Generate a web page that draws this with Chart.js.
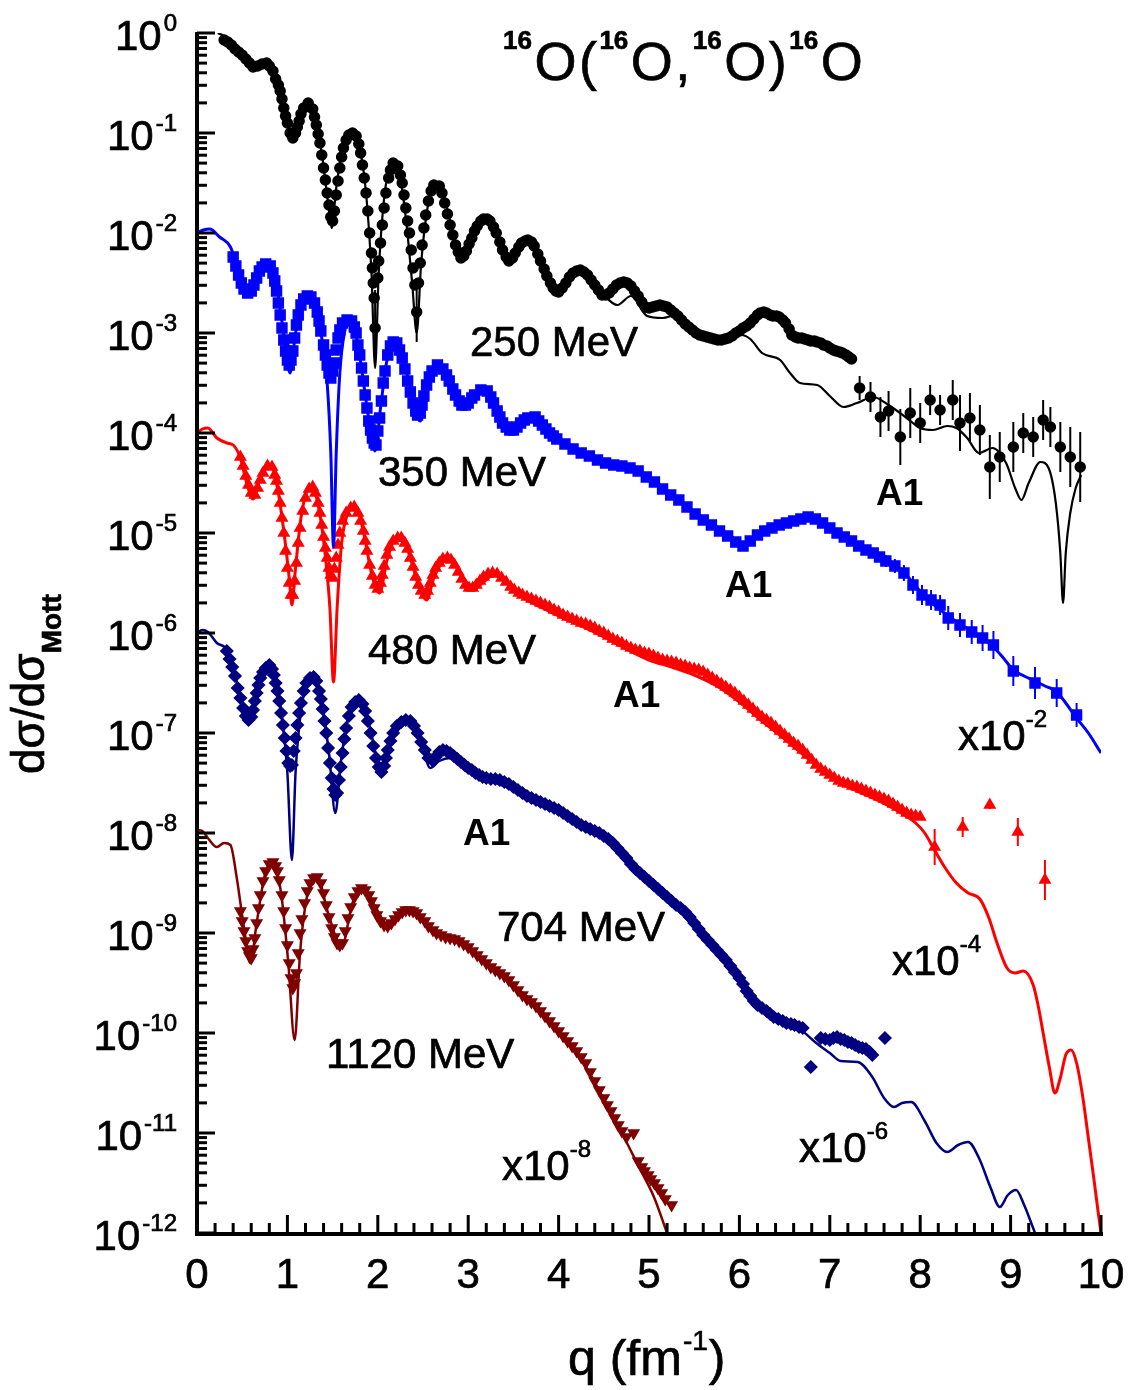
<!DOCTYPE html>
<html>
<head>
<meta charset="utf-8">
<script src="https://cdn.jsdelivr.net/npm/chart.js@4/dist/chart.umd.min.js"></script>
<style>
  body { margin: 0; background: #fff; }
  #wrap { width: 1129px; height: 1390px; }
</style>
</head>
<body>
<div id="wrap"><canvas id="chart"></canvas></div>
<script>
// values are [q in fm^-1, log10(dsigma/dsigma_Mott)]
// "tail" points carry a third value: half error bar in decades

const data250 = [[0.30,-0.07],[0.34,-0.09],[0.38,-0.12],[0.42,-0.16],[0.46,-0.19],[0.50,-0.22],[0.54,-0.26],[0.58,-0.30],[0.62,-0.34],[0.67,-0.33],[0.72,-0.31],[0.77,-0.30],[0.80,-0.33],[0.84,-0.38],[0.87,-0.46],[0.90,-0.52],[0.92,-0.58],[0.94,-0.66],[0.96,-0.75],[0.98,-0.83],[1.00,-0.90],[1.03,-1.00],[1.06,-1.05],[1.09,-1.00],[1.11,-0.94],[1.13,-0.88],[1.15,-0.81],[1.18,-0.75],[1.23,-0.70],[1.28,-0.76],[1.30,-0.84],[1.32,-0.92],[1.34,-1.01],[1.36,-1.10],[1.38,-1.22],[1.40,-1.35],[1.42,-1.47],[1.44,-1.60],[1.46,-1.72],[1.48,-1.84],[1.50,-1.88],[1.52,-1.78],[1.54,-1.62],[1.56,-1.48],[1.58,-1.35],[1.60,-1.24],[1.62,-1.15],[1.65,-1.07],[1.68,-1.02],[1.72,-1.00],[1.76,-1.03],[1.79,-1.11],[1.81,-1.20],[1.83,-1.32],[1.85,-1.45],[1.87,-1.60],[1.89,-1.78],[1.91,-2.00],[1.93,-2.20],[1.94,-2.35],[1.95,-2.50],[1.96,-2.65],[2.00,-2.45],[2.01,-2.28],[2.03,-2.10],[2.05,-1.92],[2.07,-1.75],[2.09,-1.60],[2.12,-1.45],[2.14,-1.37],[2.17,-1.30],[2.22,-1.33],[2.25,-1.42],[2.27,-1.50],[2.29,-1.62],[2.31,-1.75],[2.33,-1.88],[2.35,-2.00],[2.37,-2.17],[2.39,-2.35],[2.41,-2.52],[2.45,-2.50],[2.47,-2.30],[2.49,-2.12],[2.51,-1.95],[2.53,-1.82],[2.56,-1.68],[2.59,-1.58],[2.62,-1.52],[2.68,-1.53],[2.71,-1.60],[2.74,-1.70],[2.77,-1.81],[2.80,-1.92],[2.83,-2.02],[2.86,-2.12],[2.89,-2.19],[2.92,-2.25],[2.95,-2.23],[2.98,-2.18],[3.01,-2.11],[3.04,-2.05],[3.07,-1.98],[3.10,-1.93],[3.14,-1.88],[3.17,-1.86],[3.21,-1.86],[3.24,-1.88],[3.28,-1.94],[3.31,-2.00],[3.35,-2.09],[3.38,-2.17],[3.42,-2.24],[3.45,-2.28],[3.49,-2.25],[3.52,-2.20],[3.56,-2.14],[3.59,-2.10],[3.63,-2.08],[3.66,-2.07],[3.70,-2.09],[3.73,-2.13],[3.77,-2.21],[3.80,-2.28],[3.84,-2.36],[3.87,-2.43],[3.91,-2.50],[3.94,-2.55],[3.97,-2.58],[4.00,-2.59],[4.04,-2.55],[4.08,-2.50],[4.12,-2.44],[4.16,-2.40],[4.20,-2.38],[4.24,-2.37],[4.28,-2.39],[4.32,-2.42],[4.36,-2.47],[4.40,-2.52],[4.44,-2.57],[4.48,-2.62],[4.52,-2.62],[4.56,-2.60],[4.60,-2.56],[4.64,-2.52],[4.68,-2.50],[4.72,-2.49],[4.76,-2.50],[4.80,-2.53],[4.84,-2.58],[4.88,-2.63],[4.92,-2.69],[4.96,-2.74],[5.00,-2.75],[5.04,-2.74],[5.08,-2.73],[5.12,-2.72],[5.16,-2.73],[5.20,-2.74],[5.24,-2.77],[5.28,-2.80],[5.32,-2.83],[5.36,-2.87],[5.40,-2.91],[5.44,-2.94],[5.48,-2.97],[5.52,-3.00],[5.56,-3.02],[5.60,-3.03],[5.64,-3.04],[5.68,-3.05],[5.72,-3.06],[5.76,-3.07],[5.80,-3.07],[5.84,-3.06],[5.88,-3.05],[5.92,-3.03],[5.96,-3.00],[6.00,-2.98],[6.04,-2.95],[6.08,-2.93],[6.12,-2.90],[6.16,-2.86],[6.20,-2.82],[6.23,-2.80],[6.27,-2.79],[6.30,-2.80],[6.34,-2.82],[6.37,-2.83],[6.41,-2.83],[6.44,-2.84],[6.48,-2.87],[6.51,-2.90],[6.55,-2.96],[6.58,-3.02],[6.62,-3.04],[6.65,-3.05],[6.69,-3.05],[6.72,-3.06],[6.76,-3.07],[6.79,-3.08],[6.83,-3.08],[6.86,-3.09],[6.90,-3.10],[6.93,-3.12],[6.97,-3.13],[7.00,-3.15],[7.04,-3.17],[7.07,-3.18],[7.11,-3.19],[7.14,-3.20],[7.18,-3.22],[7.21,-3.24],[7.24,-3.26]];
const tail250 = [[1.97,-2.95,0.38],[2.43,-2.79,0.30],[7.33,-3.55,0.12],[7.45,-3.64,0.15],[7.56,-3.84,0.20],[7.65,-3.78,0.20],[7.78,-4.04,0.28],[7.89,-3.80,0.25],[8.00,-3.90,0.20],[8.11,-3.67,0.15],[8.22,-3.77,0.15],[8.36,-3.67,0.20],[8.44,-3.90,0.28],[8.55,-3.85,0.25],[8.66,-3.97,0.25],[8.77,-4.34,0.32],[8.88,-4.24,0.25],[9.03,-4.14,0.25],[9.14,-4.00,0.20],[9.25,-4.04,0.20],[9.36,-3.87,0.20],[9.44,-3.94,0.20],[9.55,-4.14,0.25],[9.66,-4.24,0.30],[9.77,-4.34,0.35]];
const theory250 = [[0.23,0.00],[0.30,-0.03],[0.40,-0.10],[0.48,-0.18],[0.56,-0.27],[0.63,-0.33],[0.70,-0.33],[0.77,-0.31],[0.85,-0.42],[0.93,-0.65],[1.00,-0.92],[1.06,-1.07],[1.12,-0.90],[1.18,-0.75],[1.23,-0.70],[1.30,-0.82],[1.38,-1.20],[1.45,-1.70],[1.49,-1.95],[1.54,-1.55],[1.61,-1.15],[1.67,-1.02],[1.73,-1.00],[1.80,-1.15],[1.87,-1.60],[1.93,-2.40],[1.97,-3.35],[2.01,-2.40],[2.07,-1.65],[2.12,-1.38],[2.17,-1.29],[2.24,-1.42],[2.31,-1.85],[2.38,-2.50],[2.43,-3.00],[2.48,-2.30],[2.55,-1.75],[2.63,-1.50],[2.72,-1.60],[2.82,-1.95],[2.93,-2.27],[3.05,-2.05],[3.19,-1.85],[3.33,-2.05],[3.46,-2.30],[3.56,-2.15],[3.66,-2.07],[3.80,-2.25],[3.99,-2.60],[4.12,-2.45],[4.24,-2.37],[4.38,-2.48],[4.50,-2.62],[4.65,-2.72],[4.80,-2.63],[4.98,-2.83],[5.15,-2.85],[5.30,-2.82],[5.45,-2.95],[5.65,-3.05],[5.85,-3.07],[6.02,-3.02],[6.12,-3.06],[6.25,-3.20],[6.45,-3.27],[6.56,-3.40],[6.67,-3.50],[6.86,-3.52],[7.00,-3.63],[7.15,-3.74],[7.30,-3.70],[7.48,-3.64],[7.65,-3.72],[7.85,-3.85],[8.00,-3.95],[8.14,-3.97],[8.30,-3.93],[8.40,-3.95],[8.52,-4.05],[8.65,-4.20],[8.80,-4.15],[8.95,-4.30],[9.05,-4.55],[9.12,-4.67],[9.20,-4.50],[9.33,-4.29],[9.42,-4.35],[9.50,-4.70],[9.55,-5.20],[9.58,-5.70],[9.61,-5.20],[9.66,-4.80],[9.72,-4.55],[9.78,-4.42]];

const data350 = [[0.40,-2.24],[0.43,-2.33],[0.46,-2.42],[0.49,-2.50],[0.52,-2.56],[0.56,-2.60],[0.60,-2.58],[0.63,-2.52],[0.66,-2.45],[0.69,-2.38],[0.72,-2.34],[0.76,-2.31],[0.81,-2.33],[0.84,-2.40],[0.86,-2.48],[0.88,-2.58],[0.90,-2.70],[0.92,-2.82],[0.94,-2.95],[0.96,-3.07],[0.98,-3.18],[1.00,-3.27],[1.02,-3.32],[1.04,-3.27],[1.06,-3.18],[1.08,-3.05],[1.10,-2.92],[1.12,-2.82],[1.15,-2.72],[1.18,-2.66],[1.22,-2.63],[1.26,-2.64],[1.30,-2.70],[1.33,-2.79],[1.35,-2.88],[1.37,-2.98],[1.40,-3.12],[1.42,-3.22],[1.44,-3.32],[1.46,-3.40],[1.48,-3.45],[1.50,-3.38],[1.52,-3.30],[1.54,-3.17],[1.56,-3.05],[1.58,-2.97],[1.61,-2.90],[1.66,-2.87],[1.71,-2.88],[1.74,-2.94],[1.76,-3.00],[1.78,-3.12],[1.80,-3.22],[1.82,-3.35],[1.84,-3.48],[1.86,-3.62],[1.88,-3.75],[1.90,-3.88],[1.92,-3.97],[1.94,-4.05],[1.96,-4.10],[1.98,-4.12],[2.00,-3.98],[2.02,-3.85],[2.04,-3.68],[2.06,-3.50],[2.08,-3.38],[2.11,-3.22],[2.14,-3.13],[2.17,-3.09],[2.21,-3.10],[2.24,-3.17],[2.27,-3.25],[2.30,-3.36],[2.33,-3.48],[2.36,-3.59],[2.39,-3.70],[2.42,-3.78],[2.44,-3.82],[2.47,-3.80],[2.49,-3.72],[2.51,-3.63],[2.54,-3.52],[2.57,-3.44],[2.60,-3.38],[2.66,-3.32],[2.72,-3.36],[2.76,-3.42],[2.79,-3.48],[2.83,-3.56],[2.86,-3.62],[2.90,-3.68],[2.93,-3.72],[2.97,-3.72],[3.00,-3.70],[3.04,-3.65],[3.07,-3.62],[3.14,-3.57],[3.21,-3.58],[3.25,-3.64],[3.28,-3.70],[3.32,-3.78],[3.35,-3.84],[3.38,-3.90],[3.42,-3.94],[3.46,-3.97],[3.50,-3.97],[3.54,-3.94],[3.58,-3.90],[3.62,-3.87],[3.66,-3.85],[3.74,-3.84],[3.78,-3.88],[3.82,-3.92],[3.86,-3.96],[3.90,-4.00],[3.94,-4.03],[3.98,-4.06],[4.07,-4.11],[4.16,-4.16],[4.25,-4.20],[4.34,-4.23],[4.43,-4.27],[4.52,-4.30],[4.61,-4.32],[4.70,-4.33],[4.79,-4.35],[4.88,-4.38],[4.97,-4.44],[5.06,-4.49],[5.15,-4.56],[5.24,-4.62],[5.33,-4.67],[5.42,-4.74],[5.51,-4.81],[5.60,-4.87],[5.69,-4.92],[5.78,-4.98],[5.87,-5.03],[5.96,-5.09],[6.04,-5.13],[6.12,-5.08],[6.20,-5.02],[6.28,-4.98],[6.36,-4.95],[6.44,-4.92],[6.52,-4.90],[6.60,-4.88],[6.68,-4.86],[6.76,-4.84],[6.84,-4.86],[6.92,-4.90],[7.00,-4.95],[7.08,-5.00],[7.16,-5.04],[7.24,-5.08],[7.32,-5.13],[7.40,-5.17],[7.48,-5.20],[7.55,-5.24]];
const tail350 = [[7.62,-5.28,0.06],[7.72,-5.33,0.07],[7.82,-5.40,0.08],[7.92,-5.52,0.09],[8.02,-5.62,0.10],[8.12,-5.67,0.10],[8.22,-5.72,0.10],[8.31,-5.85,0.12],[8.44,-5.92,0.12],[8.57,-5.99,0.12],[8.69,-6.05,0.13],[8.81,-6.12,0.14],[9.03,-6.38,0.15],[9.27,-6.50,0.16],[9.51,-6.60,0.14],[9.73,-6.82,0.12]];
const theory350 = [[0.00,-2.00],[0.07,-1.97],[0.14,-1.96],[0.25,-2.04],[0.37,-2.14],[0.46,-2.38],[0.53,-2.55],[0.59,-2.62],[0.66,-2.48],[0.73,-2.34],[0.81,-2.32],[0.88,-2.52],[0.95,-2.95],[1.03,-3.40],[1.09,-3.00],[1.16,-2.72],[1.23,-2.63],[1.30,-2.72],[1.38,-3.05],[1.44,-3.50],[1.48,-4.20],[1.51,-5.14],[1.54,-4.20],[1.58,-3.40],[1.63,-3.00],[1.69,-2.87],[1.75,-2.98],[1.82,-3.35],[1.89,-3.80],[1.97,-4.18],[2.03,-3.75],[2.10,-3.28],[2.19,-3.09],[2.27,-3.22],[2.35,-3.52],[2.41,-3.78],[2.47,-3.88],[2.53,-3.58],[2.60,-3.38],[2.69,-3.32],[2.78,-3.45],[2.88,-3.65],[2.99,-3.75],[3.09,-3.62],[3.19,-3.57],[3.30,-3.74],[3.40,-3.92],[3.50,-3.98],[3.62,-3.88],[3.76,-3.85],[3.88,-3.96],[4.02,-4.06],[4.30,-4.20],[4.57,-4.32],[4.87,-4.37],[5.05,-4.47],[5.23,-4.60],[5.40,-4.72],[5.56,-4.82],[5.72,-4.92],[5.86,-5.00],[5.96,-5.07],[6.06,-5.12],[6.18,-5.05],[6.31,-4.98],[6.55,-4.90],[6.78,-4.84],[7.00,-4.93],[7.22,-5.06],[7.40,-5.16],[7.55,-5.22],[7.68,-5.29],[7.81,-5.38],[7.94,-5.52],[8.07,-5.65],[8.18,-5.74],[8.30,-5.82],[8.42,-5.90],[8.55,-5.97],[8.68,-6.05],[8.81,-6.14],[8.92,-6.25],[9.03,-6.37],[9.15,-6.43],[9.27,-6.48],[9.38,-6.53],[9.50,-6.58],[9.61,-6.70],[9.72,-6.84],[9.86,-7.00],[10.00,-7.20]];

const data480 = [[0.48,-4.24],[0.51,-4.33],[0.54,-4.43],[0.57,-4.52],[0.60,-4.60],[0.64,-4.62],[0.67,-4.55],[0.70,-4.47],[0.73,-4.40],[0.78,-4.33],[0.83,-4.34],[0.86,-4.42],[0.88,-4.48],[0.90,-4.58],[0.92,-4.70],[0.94,-4.85],[0.96,-5.00],[0.98,-5.18],[1.00,-5.35],[1.02,-5.50],[1.04,-5.62],[1.06,-5.62],[1.08,-5.48],[1.10,-5.30],[1.12,-5.10],[1.14,-4.95],[1.17,-4.78],[1.20,-4.65],[1.24,-4.56],[1.28,-4.54],[1.31,-4.60],[1.34,-4.70],[1.36,-4.80],[1.38,-4.92],[1.40,-5.04],[1.42,-5.15],[1.44,-5.25],[1.46,-5.35],[1.48,-5.42],[1.50,-5.45],[1.52,-5.36],[1.54,-5.25],[1.56,-5.12],[1.58,-5.00],[1.61,-4.88],[1.65,-4.80],[1.70,-4.75],[1.74,-4.74],[1.78,-4.80],[1.81,-4.88],[1.84,-4.98],[1.86,-5.08],[1.88,-5.18],[1.91,-5.32],[1.94,-5.43],[1.97,-5.52],[2.00,-5.56],[2.03,-5.50],[2.05,-5.42],[2.07,-5.33],[2.10,-5.22],[2.13,-5.14],[2.17,-5.08],[2.22,-5.05],[2.26,-5.05],[2.30,-5.10],[2.33,-5.16],[2.36,-5.25],[2.39,-5.34],[2.42,-5.44],[2.45,-5.52],[2.48,-5.58],[2.52,-5.62],[2.55,-5.58],[2.58,-5.50],[2.61,-5.42],[2.64,-5.35],[2.68,-5.30],[2.72,-5.26],[2.77,-5.25],[2.81,-5.27],[2.85,-5.32],[2.89,-5.39],[2.93,-5.46],[2.97,-5.52],[3.01,-5.55],[3.05,-5.55],[3.09,-5.52],[3.13,-5.48],[3.17,-5.44],[3.22,-5.41],[3.27,-5.40],[3.32,-5.41],[3.37,-5.45],[3.42,-5.49],[3.47,-5.54],[3.51,-5.57],[3.56,-5.60],[3.60,-5.62],[3.65,-5.64],[3.70,-5.66],[3.75,-5.68],[3.80,-5.70],[3.85,-5.72],[3.90,-5.74],[3.95,-5.77],[4.00,-5.79],[4.05,-5.82],[4.10,-5.84],[4.15,-5.86],[4.20,-5.88],[4.25,-5.90],[4.30,-5.91],[4.35,-5.93],[4.40,-5.95],[4.45,-5.98],[4.50,-6.00],[4.55,-6.03],[4.60,-6.06],[4.65,-6.08],[4.70,-6.10],[4.75,-6.13],[4.80,-6.15],[4.85,-6.17],[4.90,-6.18],[4.95,-6.20],[5.00,-6.21],[5.05,-6.23],[5.10,-6.25],[5.15,-6.27],[5.20,-6.28],[5.25,-6.29],[5.30,-6.30],[5.35,-6.32],[5.40,-6.33],[5.45,-6.35],[5.50,-6.36],[5.55,-6.37],[5.60,-6.39],[5.65,-6.42],[5.70,-6.45],[5.75,-6.48],[5.80,-6.51],[5.85,-6.54],[5.90,-6.57],[5.95,-6.60],[6.00,-6.64],[6.05,-6.68],[6.10,-6.72],[6.15,-6.76],[6.20,-6.80],[6.25,-6.84],[6.30,-6.87],[6.35,-6.90],[6.40,-6.94],[6.45,-6.98],[6.50,-7.02],[6.55,-7.06],[6.60,-7.10],[6.65,-7.13],[6.70,-7.17],[6.75,-7.22],[6.80,-7.27],[6.85,-7.32],[6.90,-7.36],[6.95,-7.39],[7.00,-7.42],[7.05,-7.45],[7.10,-7.48],[7.15,-7.50],[7.20,-7.51],[7.25,-7.53],[7.30,-7.54],[7.35,-7.56],[7.40,-7.58],[7.45,-7.60],[7.50,-7.62],[7.55,-7.64],[7.60,-7.66],[7.65,-7.68],[7.70,-7.71],[7.75,-7.74],[7.80,-7.77],[7.85,-7.80],[7.90,-7.82],[7.95,-7.83],[8.00,-7.84]];
const tail480 = [[8.16,-8.14,0.18],[8.47,-7.94,0.10],[8.77,-7.72,0.04],[9.08,-7.99,0.14],[9.38,-8.47,0.20]];
const theory480 = [[0.00,-4.00],[0.06,-3.96],[0.12,-3.95],[0.22,-4.05],[0.33,-4.10],[0.40,-4.12],[0.48,-4.25],[0.55,-4.50],[0.62,-4.66],[0.70,-4.45],[0.81,-4.32],[0.89,-4.55],[0.97,-5.05],[1.02,-5.45],[1.05,-5.72],[1.09,-5.35],[1.15,-4.85],[1.21,-4.60],[1.27,-4.54],[1.34,-4.72],[1.41,-5.15],[1.47,-5.75],[1.51,-6.49],[1.55,-5.75],[1.60,-5.10],[1.67,-4.80],[1.75,-4.74],[1.84,-4.98],[1.93,-5.40],[2.02,-5.60],[2.10,-5.28],[2.18,-5.08],[2.27,-5.05],[2.37,-5.28],[2.47,-5.58],[2.54,-5.67],[2.62,-5.45],[2.71,-5.30],[2.80,-5.27],[2.92,-5.42],[3.05,-5.57],[3.16,-5.50],[3.28,-5.42],[3.40,-5.48],[3.60,-5.64],[3.80,-5.74],[4.00,-5.83],[4.25,-5.93],[4.50,-6.04],[4.75,-6.16],[5.00,-6.27],[5.25,-6.34],[5.50,-6.42],[5.75,-6.53],[6.00,-6.69],[6.25,-6.88],[6.50,-7.06],[6.75,-7.25],[7.00,-7.43],[7.25,-7.56],[7.50,-7.66],[7.75,-7.78],[7.95,-7.90],[8.05,-8.00],[8.14,-8.14],[8.27,-8.34],[8.40,-8.50],[8.53,-8.60],[8.66,-8.66],[8.76,-8.85],[8.85,-9.10],[8.96,-9.35],[9.05,-9.40],[9.14,-9.38],[9.25,-9.52],[9.31,-9.75],[9.36,-10.00],[9.43,-10.35],[9.49,-10.60],[9.55,-10.45],[9.61,-10.22],[9.67,-10.17],[9.73,-10.30],[9.80,-10.65],[9.86,-11.05],[9.92,-11.45],[9.97,-11.80],[10.00,-12.00]];

const data704 = [[0.33,-6.18],[0.36,-6.26],[0.39,-6.34],[0.42,-6.43],[0.45,-6.55],[0.48,-6.65],[0.51,-6.75],[0.54,-6.83],[0.57,-6.87],[0.60,-6.84],[0.62,-6.77],[0.64,-6.68],[0.66,-6.60],[0.68,-6.52],[0.70,-6.45],[0.73,-6.39],[0.76,-6.35],[0.80,-6.32],[0.83,-6.36],[0.85,-6.42],[0.87,-6.50],[0.89,-6.58],[0.91,-6.68],[0.93,-6.80],[0.95,-6.92],[0.97,-7.05],[0.99,-7.18],[1.01,-7.30],[1.03,-7.33],[1.05,-7.32],[1.07,-7.18],[1.09,-7.05],[1.11,-6.92],[1.13,-6.80],[1.15,-6.70],[1.18,-6.58],[1.21,-6.50],[1.25,-6.45],[1.29,-6.44],[1.32,-6.48],[1.35,-6.58],[1.37,-6.66],[1.39,-6.76],[1.41,-6.88],[1.43,-7.00],[1.45,-7.15],[1.47,-7.30],[1.49,-7.45],[1.51,-7.56],[1.53,-7.62],[1.55,-7.60],[1.57,-7.47],[1.59,-7.34],[1.61,-7.20],[1.63,-7.06],[1.65,-6.95],[1.68,-6.83],[1.71,-6.74],[1.75,-6.69],[1.79,-6.67],[1.83,-6.71],[1.86,-6.78],[1.89,-6.88],[1.92,-7.00],[1.95,-7.13],[1.98,-7.25],[2.01,-7.34],[2.04,-7.39],[2.07,-7.33],[2.09,-7.25],[2.11,-7.17],[2.14,-7.08],[2.17,-7.00],[2.21,-6.93],[2.26,-6.89],[2.31,-6.87],[2.36,-6.88],[2.40,-6.93],[2.44,-7.00],[2.48,-7.09],[2.52,-7.17],[2.56,-7.25],[2.60,-7.27],[2.64,-7.24],[2.68,-7.19],[2.72,-7.17],[2.76,-7.18],[2.80,-7.20],[2.84,-7.23],[2.88,-7.26],[2.92,-7.29],[2.96,-7.32],[3.00,-7.35],[3.04,-7.37],[3.08,-7.40],[3.12,-7.42],[3.16,-7.44],[3.20,-7.45],[3.25,-7.46],[3.30,-7.46],[3.35,-7.47],[3.40,-7.49],[3.45,-7.51],[3.50,-7.54],[3.55,-7.57],[3.60,-7.60],[3.65,-7.63],[3.70,-7.65],[3.75,-7.67],[3.80,-7.69],[3.85,-7.71],[3.90,-7.73],[3.95,-7.75],[4.00,-7.77],[4.05,-7.80],[4.10,-7.83],[4.15,-7.86],[4.20,-7.89],[4.25,-7.92],[4.30,-7.94],[4.35,-7.96],[4.40,-7.98],[4.45,-8.00],[4.50,-8.03],[4.55,-8.06],[4.60,-8.10],[4.65,-8.15],[4.70,-8.20],[4.75,-8.25],[4.80,-8.31],[4.85,-8.36],[4.90,-8.40],[4.95,-8.44],[5.00,-8.48],[5.05,-8.52],[5.10,-8.56],[5.15,-8.60],[5.20,-8.64],[5.25,-8.68],[5.30,-8.72],[5.35,-8.75],[5.40,-8.79],[5.45,-8.84],[5.50,-8.90],[5.55,-8.96],[5.60,-9.02],[5.65,-9.07],[5.70,-9.12],[5.75,-9.17],[5.80,-9.22],[5.85,-9.27],[5.90,-9.33],[5.95,-9.39],[6.00,-9.45],[6.04,-9.51],[6.08,-9.58],[6.12,-9.63],[6.16,-9.68],[6.20,-9.72],[6.25,-9.75],[6.30,-9.78],[6.34,-9.81],[6.38,-9.84],[6.43,-9.86],[6.48,-9.88],[6.52,-9.90],[6.57,-9.91],[6.61,-9.92],[6.66,-9.94],[6.70,-9.95],[6.79,-10.34],[6.90,-10.05],[6.95,-10.06],[7.00,-10.07],[7.04,-10.05],[7.08,-10.04],[7.12,-10.06],[7.16,-10.07],[7.20,-10.09],[7.24,-10.10],[7.28,-10.12],[7.32,-10.14],[7.36,-10.15],[7.40,-10.16],[7.44,-10.19],[7.47,-10.22],[7.61,-10.05]];
const tail704 = [];
const theory704 = [[0.00,-6.00],[0.06,-5.97],[0.12,-5.99],[0.22,-6.10],[0.33,-6.17],[0.42,-6.42],[0.50,-6.70],[0.59,-6.90],[0.67,-6.55],[0.74,-6.37],[0.81,-6.32],[0.88,-6.50],[0.95,-6.92],[1.00,-7.40],[1.05,-8.27],[1.09,-7.40],[1.15,-6.78],[1.22,-6.50],[1.30,-6.44],[1.38,-6.70],[1.46,-7.20],[1.53,-7.80],[1.59,-7.30],[1.67,-6.85],[1.80,-6.67],[1.90,-6.90],[1.98,-7.22],[2.05,-7.42],[2.12,-7.15],[2.22,-6.93],[2.36,-6.87],[2.47,-7.05],[2.58,-7.35],[2.68,-7.28],[2.80,-7.25],[2.95,-7.33],[3.20,-7.46],[3.50,-7.57],[3.80,-7.71],[4.10,-7.85],[4.40,-8.00],[4.70,-8.23],[5.00,-8.52],[5.30,-8.75],[5.60,-9.04],[5.85,-9.30],[6.00,-9.48],[6.10,-9.64],[6.25,-9.78],[6.42,-9.87],[6.55,-9.92],[6.68,-9.97],[6.85,-10.10],[7.00,-10.20],[7.12,-10.28],[7.31,-10.29],[7.47,-10.44],[7.60,-10.65],[7.71,-10.74],[7.80,-10.70],[7.90,-10.69],[8.05,-10.88],[8.18,-11.10],[8.30,-11.19],[8.42,-11.12],[8.53,-11.09],[8.65,-11.25],[8.78,-11.55],[8.88,-11.74],[8.97,-11.62],[9.06,-11.57],[9.15,-11.72],[9.22,-11.88],[9.27,-12.00]];

const data1120 = [[0.48,-8.78],[0.50,-8.88],[0.52,-8.98],[0.54,-9.08],[0.56,-9.18],[0.58,-9.23],[0.60,-9.25],[0.62,-9.16],[0.64,-9.05],[0.66,-8.90],[0.68,-8.75],[0.70,-8.62],[0.73,-8.48],[0.76,-8.38],[0.80,-8.31],[0.84,-8.29],[0.87,-8.33],[0.89,-8.38],[0.91,-8.47],[0.94,-8.62],[0.96,-8.78],[0.98,-8.95],[1.00,-9.12],[1.02,-9.30],[1.04,-9.45],[1.06,-9.55],[1.08,-9.50],[1.10,-9.40],[1.12,-9.20],[1.14,-9.00],[1.16,-8.86],[1.19,-8.70],[1.22,-8.58],[1.25,-8.50],[1.29,-8.45],[1.33,-8.44],[1.37,-8.50],[1.40,-8.60],[1.43,-8.72],[1.46,-8.84],[1.49,-8.95],[1.52,-9.04],[1.55,-9.10],[1.58,-9.12],[1.61,-9.10],[1.64,-8.98],[1.67,-8.85],[1.70,-8.74],[1.74,-8.64],[1.78,-8.58],[1.82,-8.55],[1.86,-8.57],[1.90,-8.62],[1.93,-8.68],[1.96,-8.75],[1.99,-8.82],[2.03,-8.88],[2.07,-8.92],[2.11,-8.93],[2.15,-8.90],[2.19,-8.86],[2.23,-8.82],[2.27,-8.79],[2.31,-8.77],[2.35,-8.77],[2.39,-8.78],[2.43,-8.80],[2.47,-8.84],[2.52,-8.88],[2.56,-8.93],[2.61,-8.97],[2.65,-9.00],[2.70,-9.02],[2.75,-9.04],[2.80,-9.05],[2.85,-9.06],[2.90,-9.08],[2.95,-9.11],[3.00,-9.14],[3.05,-9.18],[3.10,-9.22],[3.15,-9.26],[3.20,-9.30],[3.25,-9.34],[3.30,-9.37],[3.35,-9.40],[3.40,-9.43],[3.45,-9.47],[3.50,-9.52],[3.55,-9.57],[3.60,-9.62],[3.65,-9.66],[3.70,-9.69],[3.75,-9.73],[3.80,-9.78],[3.85,-9.83],[3.90,-9.88],[3.95,-9.93],[4.00,-9.98],[4.05,-10.03],[4.10,-10.08],[4.15,-10.13],[4.20,-10.18],[4.25,-10.24],[4.30,-10.30],[4.35,-10.39],[4.40,-10.48],[4.45,-10.57],[4.50,-10.65],[4.54,-10.72],[4.58,-10.78],[4.62,-10.85],[4.66,-10.92],[4.70,-10.98],[4.75,-11.04],[4.83,-11.00],[4.88,-11.28],[4.92,-11.34],[4.95,-11.38],[4.99,-11.42],[5.02,-11.46],[5.06,-11.50],[5.10,-11.55],[5.14,-11.60],[5.18,-11.66],[5.25,-11.72]];
const tail1120 = [];
const theory1120 = [[0.00,-7.97],[0.06,-7.98],[0.12,-8.05],[0.22,-8.14],[0.30,-8.10],[0.37,-8.12],[0.44,-8.45],[0.52,-8.95],[0.59,-9.30],[0.66,-8.90],[0.75,-8.42],[0.84,-8.29],[0.93,-8.60],[1.01,-9.30],[1.08,-10.07],[1.14,-9.20],[1.22,-8.62],[1.33,-8.44],[1.45,-8.80],[1.60,-9.14],[1.72,-8.70],[1.84,-8.55],[1.98,-8.75],[2.13,-8.94],[2.26,-8.80],[2.39,-8.77],[2.55,-8.92],[2.80,-9.06],[3.00,-9.15],[3.25,-9.34],[3.50,-9.52],[3.75,-9.72],[4.00,-9.98],[4.25,-10.26],[4.50,-10.66],[4.70,-11.00],[4.90,-11.36],[5.05,-11.63],[5.20,-12.00]];

const decades = [0,-1,-2,-3,-4,-5,-6,-7,-8,-9,-10,-11,-12];
const qTicks = [0,1,2,3,4,5,6,7,8,9,10];

const FONT = '"Liberation Sans", Arial, Helvetica, sans-serif';

const series = [
  { data: data250,  tail: tail250,  theory: theory250,  color: '#000000', style: 'circle',   r: 5,   rot: 0,   lw: 2.2 },
  { data: data350,  tail: tail350,  theory: theory350,  color: '#0000ff', style: 'rect',     r: 7,   rot: 0,   lw: 3 },
  { data: data480,  tail: tail480,  theory: theory480,  color: '#ff0000', style: 'triangle', r: 6,   rot: 0,   lw: 3 },
  { data: data704,  tail: tail704,  theory: theory704,  color: '#000080', style: 'rectRot',  r: 6,   rot: 0,   lw: 2.5 },
  { data: data1120, tail: tail1120, theory: theory1120, color: '#800000', style: 'triangle', r: 6,   rot: 180, lw: 2.5 }
];

const toPts = arr => arr.map(p => ({ x: p[0], y: Math.pow(10, p[1]) }));

const datasets = [];
series.forEach(s => {
  datasets.push({
    data: toPts(s.theory),
    showLine: true,
    borderColor: s.color,
    borderWidth: s.lw,
    pointRadius: 0,
    cubicInterpolationMode: 'monotone',
    order: 0
  });
  datasets.push({
    data: toPts(s.data.concat(s.tail)),
    showLine: false,
    pointStyle: s.style,
    pointRadius: s.r,
    pointRotation: s.rot,
    backgroundColor: s.color,
    borderColor: s.color,
    borderWidth: 1.5,
    order: 1
  });
});

function drawParts(ctx, x, y, parts, gap) {
  // parts: [text, size, rise, bold]
  parts.forEach(([t, size, rise, bold]) => {
    ctx.font = (bold ? 'bold ' : '') + size + 'px ' + FONT;
    ctx.fillText(t, x, y - rise);
    ctx.strokeText(t, x, y - rise);
    x += ctx.measureText(t).width + (gap || 0);
  });
  return x;
}

function text(ctx, t, x, y) {
  ctx.fillText(t, x, y);
  ctx.strokeText(t, x, y);
}

const errorBars = {
  id: 'errorBars',
  beforeDatasetsDraw(chart) {
    const { ctx, scales: { x, y } } = chart;
    ctx.save();
    ctx.lineWidth = 2;
    series.forEach(s => {
      ctx.strokeStyle = s.color;
      s.tail.forEach(([q, lg, d]) => {
        const px = x.getPixelForValue(q);
        ctx.beginPath();
        ctx.moveTo(px, y.getPixelForValue(Math.pow(10, lg + d)));
        ctx.lineTo(px, y.getPixelForValue(Math.pow(10, lg - d)));
        ctx.stroke();
      });
    });
    ctx.restore();
  }
};

const frame = {
  id: 'frame',
  afterDraw(chart) {
    const { ctx, chartArea: a, scales: { x, y } } = chart;
    ctx.save();
    ctx.strokeStyle = '#000';
    ctx.fillStyle = '#000';

    // axes
    ctx.lineWidth = 4;
    ctx.beginPath();
    ctx.moveTo(a.left, a.top - 1);
    ctx.lineTo(a.left, a.bottom + 1);
    ctx.lineTo(a.right + 2, a.bottom + 1);
    ctx.stroke();

    // y ticks, pointing inward
    ctx.lineWidth = 3;
    decades.forEach(e => {
      const py = y.getPixelForValue(Math.pow(10, e));
      ctx.beginPath();
      ctx.moveTo(a.left, py);
      ctx.lineTo(a.left + 18, py);
      ctx.stroke();
      if (e > -12) {
        for (let m = 2; m <= 9; m++) {
          const pm = y.getPixelForValue(m * Math.pow(10, e - 1));
          ctx.beginPath();
          ctx.moveTo(a.left, pm);
          ctx.lineTo(a.left + 10, pm);
          ctx.stroke();
        }
      }
    });
    // x ticks
    for (let i = 0; i <= 50; i++) {
      const px = x.getPixelForValue(i / 5);
      const len = i % 5 === 0 ? 18 : 10;
      ctx.beginPath();
      ctx.moveTo(px, a.bottom);
      ctx.lineTo(px, a.bottom - len);
      ctx.stroke();
    }

    // text gets a thin outline to match the heavier print of the figure
    ctx.lineWidth = 0.7;
    ctx.textBaseline = 'alphabetic';
    ctx.textAlign = 'left';

    // y tick labels 10^n
    decades.forEach(e => {
      const py = y.getPixelForValue(Math.pow(10, e));
      const sup = String(e);
      ctx.font = '24px ' + FONT;
      const sw = ctx.measureText(sup).width;
      ctx.font = '42px ' + FONT;
      const bw = ctx.measureText('10').width;
      const x0 = 177 - sw - 2 - bw;
      text(ctx, '10', x0, py + 17);
      ctx.font = '24px ' + FONT;
      text(ctx, sup, x0 + bw + 2, py - 2);
    });

    // x tick labels
    ctx.textAlign = 'center';
    ctx.font = '42px ' + FONT;
    qTicks.forEach(v => text(ctx, String(v), x.getPixelForValue(v), 1288));

    ctx.textAlign = 'left';
    // x axis title
    drawParts(ctx, 568, 1375, [['q (fm', 50, 0], ['-1', 28, 25], [')', 50, 0]], 1);

    // y axis title
    ctx.save();
    ctx.translate(44, 774);
    ctx.rotate(-Math.PI / 2);
    drawParts(ctx, 0, 0, [['d\u03c3/d\u03c3', 46, 0], ['Mott', 28, -17, true]]);
    ctx.restore();

    // reaction title
    drawParts(ctx, 503, 80, [
      ['16', 26, 31, true], ['O', 54, 0], ['(', 54, 0],
      ['16', 26, 31, true], ['O', 54, 0], [',', 54, 0],
      ['16', 26, 31, true], ['O', 54, 0], [')', 54, 0],
      ['16', 26, 31, true], ['O', 54, 0]
    ], 2.5);

    // beam energies
    ctx.font = '42px ' + FONT;
    text(ctx, '250 MeV', 470, 356);
    text(ctx, '350 MeV', 378, 486);
    text(ctx, '480 MeV', 368, 664);
    text(ctx, '704 MeV', 497, 941);
    text(ctx, '1120 MeV', 326, 1068);

    // A1 markers
    ctx.font = 'bold 37px ' + FONT;
    ctx.fillText('A1', 876, 505);
    ctx.fillText('A1', 725, 597);
    ctx.fillText('A1', 613, 707);
    ctx.fillText('A1', 463, 845);

    // scale factors
    drawParts(ctx, 958, 750, [['x10', 42, 0], ['-2', 24, 23]]);
    drawParts(ctx, 892, 975, [['x10', 42, 0], ['-4', 24, 23]]);
    drawParts(ctx, 799, 1162, [['x10', 42, 0], ['-6', 24, 23]]);
    drawParts(ctx, 502, 1180, [['x10', 42, 0], ['-8', 24, 23]]);

    ctx.restore();
  }
};

new Chart(document.getElementById('chart'), {
  type: 'scatter',
  data: { datasets },
  options: {
    responsive: true,
    maintainAspectRatio: false,
    animation: false,
    layout: { padding: { left: 197, right: 28, top: 33, bottom: 157 } },
    plugins: { legend: { display: false }, tooltip: { enabled: false } },
    scales: {
      x: {
        type: 'linear', min: 0, max: 10,
        ticks: { display: false },
        grid: { display: false, drawTicks: false },
        border: { display: false },
        afterFit(s) { s.height = 0; }
      },
      y: {
        type: 'logarithmic', min: 1e-12, max: 1,
        ticks: { display: false },
        grid: { display: false, drawTicks: false },
        border: { display: false },
        afterFit(s) { s.width = 0; }
      }
    }
  },
  plugins: [errorBars, frame]
});
</script>
</body>
</html>
